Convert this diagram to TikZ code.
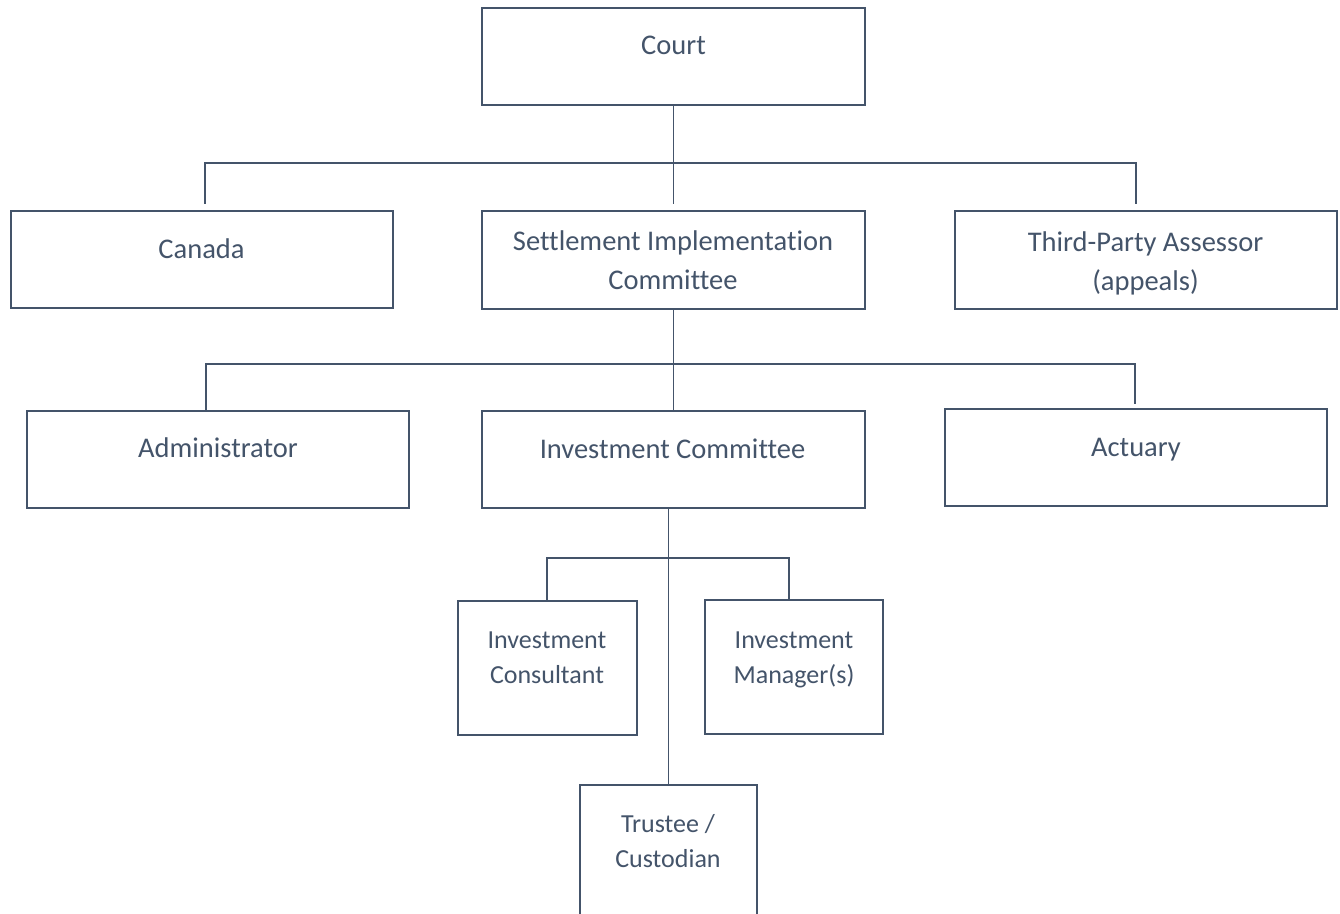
\documentclass[tikz,border=0pt]{standalone}
\usepackage{fontspec}
\setmainfont{Carlito}[Ligatures=NoCommon]
\usetikzlibrary{calc}
\definecolor{slate}{HTML}{44546A}
\tikzset{
  box/.style={draw=slate, line width=2.6pt, inner sep=0pt, fill=white},
  conn/.style={draw=slate, line width=1.3pt},
  bigtxt/.style={text=slate, align=center, inner sep=0pt, font=\fontsize{28.5}{39}\selectfont},
  smalltxt/.style={text=slate, align=center, inner sep=0pt, font=\fontsize{26}{35}\selectfont},
  one/.style={text height=18pt, text depth=0pt}
}
\begin{document}
\begin{tikzpicture}[x=1pt,y=-1pt]
\useasboundingbox (0,0) rectangle (1340,913);
\clip (0,0) rectangle (1340,913);
\fill[white] (0,0) rectangle (1340,913);

% boxes
\node[box, minimum width=383pt, minimum height=97pt] (court) at (673.5,56.5) {};
\node[box, minimum width=382pt, minimum height=97pt] (canada) at (202,259.5) {};
\node[box, minimum width=383pt, minimum height=98pt] (sic) at (673.5,260) {};
\node[box, minimum width=382pt, minimum height=98pt] (tpa) at (1146,260) {};
\node[box, minimum width=382pt, minimum height=97pt] (admin) at (218,459.5) {};
\node[box, minimum width=383pt, minimum height=97pt] (ic) at (673.5,459.5) {};
\node[box, minimum width=382pt, minimum height=97pt] (actuary) at (1136,457.5) {};
\node[box, minimum width=179pt, minimum height=134pt] (cons) at (547.5,668) {};
\node[box, minimum width=178pt, minimum height=134pt] (mgr) at (794,667) {};
\node[box, minimum width=177pt, minimum height=150pt] (trustee) at (668.5,860) {};

% bus coordinates
\coordinate (c1) at (205,163);
\coordinate (c2) at (1136,163);
\coordinate (e1) at (206,364);
\coordinate (e2) at (1135,364);
\coordinate (d1) at (547,558);
\coordinate (d2) at (789,558);

% level 1
\draw[conn] (court.south) -- ($(sic.north)+(0,-6)$);
\draw[conn] ($(canada.north -| c1)+(0,-6)$) |- (c2) -- ($(tpa.north -| c2)+(0,-6)$);
% level 2
\draw[conn] (sic.south) -- (ic.north);
\draw[conn] (admin.north -| e1) |- (e2) -- ($(actuary.north -| e2)+(0,-4)$);
% level 3
\draw[conn] (trustee.north) -- (trustee.north |- ic.south);
\draw[conn] (cons.north -| d1) |- (d2) -- (mgr.north -| d2);

% texts
\node[bigtxt, one] (courtT) at (673.5,45.5) {Court};
\node[bigtxt, one] (canadaT) at (201.5,249.5) {Canada};
\node[bigtxt] (sicT) at (673,260.5) {Settlement Implementation\\Committee};
\node[bigtxt] (tpaT) at (1145.5,263) {Third-Party Assessor\\(appeals)};
\node[bigtxt, one] (adminT) at (218,448) {Administrator};
\node[bigtxt, one] (icT) at (672.5,449) {Investment Committee};
\node[bigtxt, one] (actuaryT) at (1136,447) {Actuary};
\node[smalltxt] (consT) at (547,657.5) {Investment\\Consultant};
\node[smalltxt] (mgrT) at (794,660) {Investment\\Manager(s)};
\node[smalltxt] (trusteeT) at (668,841) {Trustee /\\Custodian};
\end{tikzpicture}
\end{document}
